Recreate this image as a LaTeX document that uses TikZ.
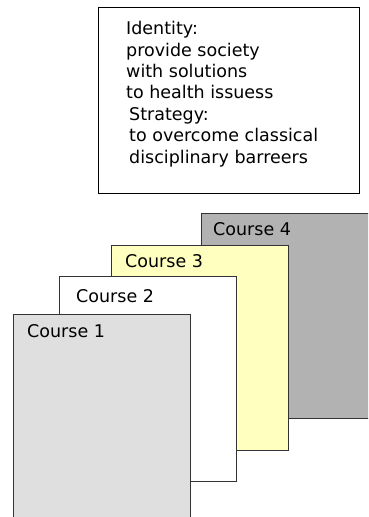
\documentclass[tikz,border=0pt]{standalone}
\usepackage{fontspec}
\setmainfont{DejaVu Sans}
\usepackage{xcolor}
\usepackage{tikz}
\usetikzlibrary{positioning,calc}
\definecolor{CardA}{HTML}{DFDFDF}
\definecolor{CardC}{HTML}{FFFFC0}
\definecolor{CardD}{HTML}{B2B2B2}
\definecolor{Edge}{HTML}{333333}

\begin{document}
\begin{tikzpicture}[x=1pt,y=-1pt,
    card/.style={draw=Edge,line width=1.4pt,anchor=north west,minimum width=177pt,minimum height=205pt,inner sep=0pt},
    lbl/.style={anchor=base west,inner sep=0pt,font=\fontsize{17.5}{21}\selectfont},
    txt/.style={anchor=north west,align=left,inner sep=0pt,font=\fontsize{17.5}{21.5}\selectfont}]
    \useasboundingbox (0,0) rectangle (368,517);
    \clip (0,0) rectangle (368,517);
    \node[draw,line width=1.2pt,anchor=north west,minimum width=261pt,minimum height=186pt,inner sep=0pt] (box) at (98,7) {};
    \node[txt] (id) at (126,21) {Identity:\\provide society\\with solutions\\to health issuess\\\hspace*{3pt}Strategy:\\\hspace*{3pt}to overcome classical\\\hspace*{3pt}disciplinary barreers};
    \node[card,fill=CardD] (c4) at (201,213) {};
    \node[card,fill=CardC] (c3) at (111,245) {};
    \node[card,fill=white] (c2) at (59,276) {};
    \node[card,fill=CardA] (c1) at (13,314) {};
    \node[lbl] (l4) at ($(c4.north west)+(12,22)$) {Course 4};
    \node[lbl] (l3) at ($(c3.north west)+(14,22)$) {Course 3};
    \node[lbl] (l2) at ($(c2.north west)+(17,26)$) {Course 2};
    \node[lbl] (l1) at ($(c1.north west)+(14,23)$) {Course 1};
  \end{tikzpicture}
\end{document}
